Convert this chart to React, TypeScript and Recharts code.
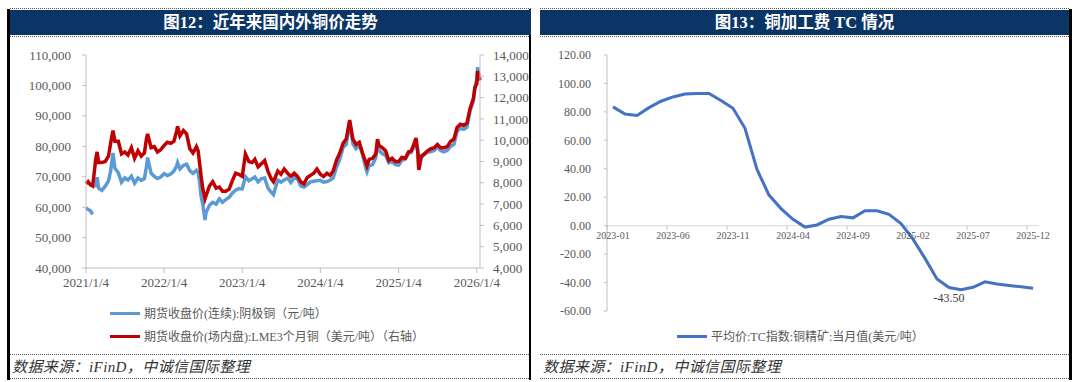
import React from "react";
import { LineChart, Line, XAxis, YAxis, ReferenceLine } from "recharts";

// ─── Data: 图12 近年来国内外铜价走势 ─────────────────────────────────────────────

// sampling dates (about twice a month, plus turning points)
const priceDates: string[] = [
  // 2021
  "2021-01-04", "2021-01-14", "2021-01-25", "2021-02-04", "2021-02-10", "2021-02-19", "2021-02-25",
  "2021-03-04", "2021-03-19", "2021-04-04", "2021-04-19", "2021-04-29", "2021-05-10", "2021-05-19",
  "2021-06-04", "2021-06-19", "2021-07-04", "2021-07-19", "2021-08-04", "2021-08-19", "2021-09-04",
  "2021-09-19", "2021-10-04", "2021-10-14", "2021-10-19", "2021-11-04", "2021-11-19", "2021-12-04",
  "2021-12-19",
  // 2022
  "2022-01-04", "2022-01-19", "2022-02-04", "2022-02-19", "2022-03-04", "2022-03-08", "2022-03-19",
  "2022-04-04", "2022-04-19", "2022-05-04", "2022-05-19", "2022-06-04", "2022-06-12", "2022-06-19",
  "2022-06-26", "2022-07-04", "2022-07-14", "2022-07-19", "2022-08-04", "2022-08-19", "2022-09-04",
  "2022-09-19", "2022-10-04", "2022-10-19", "2022-11-04", "2022-11-19", "2022-12-04", "2022-12-19",
  // 2023
  "2023-01-04", "2023-01-19", "2023-02-04", "2023-02-19", "2023-03-04", "2023-03-19", "2023-04-04",
  "2023-04-19", "2023-05-04", "2023-05-19", "2023-05-30", "2023-06-19", "2023-07-04", "2023-07-19",
  "2023-08-04", "2023-08-19", "2023-09-04", "2023-09-19", "2023-10-04", "2023-10-19", "2023-11-04",
  "2023-11-19", "2023-12-04", "2023-12-19",
  // 2024
  "2024-01-04", "2024-01-19", "2024-02-04", "2024-02-19", "2024-03-04", "2024-03-19", "2024-04-04",
  "2024-04-19", "2024-05-04", "2024-05-20", "2024-06-04", "2024-06-19", "2024-07-04", "2024-07-19",
  "2024-08-04", "2024-08-09", "2024-08-19", "2024-09-04", "2024-09-19", "2024-09-27", "2024-10-04",
  "2024-10-19", "2024-11-04", "2024-11-19", "2024-12-04", "2024-12-19",
  // 2025
  "2025-01-04", "2025-01-19", "2025-02-04", "2025-02-19", "2025-03-04", "2025-03-19", "2025-03-26",
  "2025-04-04", "2025-04-08", "2025-04-19", "2025-05-04", "2025-05-19", "2025-06-04", "2025-06-19",
  "2025-07-04", "2025-07-19", "2025-08-04", "2025-08-19", "2025-09-04", "2025-09-19", "2025-10-04",
  "2025-10-19", "2025-11-04", "2025-11-19", "2025-12-04", "2025-12-19", "2025-12-26",
  // 2026
  "2026-01-04", "2026-01-08", "2026-01-14", "2026-01-19",
];

// 期货收盘价(连续):阴极铜（元/吨）— null = no trading (Spring Festival)
const shfeCopper: (number | null)[] = [
  59800, 59200, 58800, 57600, null, 66500, 69800,
  66200, 65500, 66900, 68600, 71800, 77800, 72800,
  71300, 68200, 69600, 68900, 70200, 67900, 69600,
  68800, 69400, 73500, 76300, 71200, 70100, 69400,
  69900,
  71000, 70400, 70900, 71900, 73600, 74600, 72600,
  73700, 74100, 72000, 71100, 72100, 71400, 68200,
  63500, 60800, 55800, 58200, 60600, 61600, 61000,
  62700, 61600, 62500, 63300, 64600, 65600, 66100,
  66000, 70000, 68700, 69300, 69900, 68300, 69400,
  69600, 66300, 64900, 64100, 68900, 68200, 68900,
  69500, 68100, 69700, 69300, 67000, 66600, 67400,
  68300, 68500, 68700,
  68800, 68200, 68400, 68900, 69600, 73000, 75800,
  79600, 80600, 88000, 80800, 79200, 80400, 77300,
  72600, 71600, 73600, 74000, 76200, 81000, 78600,
  77600, 77000, 74600, 75000, 74000,
  73800, 75400, 75900, 77600, 78000, 80400, 81200,
  78600, 72500, 76000, 77600, 78000, 78300, 78600,
  79800, 78600, 78200, 78700, 80000, 80600, 84800,
  86000, 85600, 86300, 91800, 94800, 99500,
  102000, 106000, 103500, 102000,
];

// 期货收盘价(场内盘):LME3个月铜（美元/吨）
const lmeCopper: number[] = [
  7950, 8050, 7900, 7850, 8350, 9150, 9450,
  8950, 8950, 9000, 9250, 9850, 10450, 9950,
  9950, 9350, 9450, 9300, 9650, 9150, 9500,
  9250, 9400, 10100, 10300, 9650, 9700, 9450,
  9550,
  9750, 9900, 9850, 9950, 10450, 10650, 10200,
  10450, 10300, 9600, 9400, 9700, 9500, 8900,
  8300, 7700, 7250, 7400, 7850, 8050, 7750,
  7800, 7600, 7600, 7700, 8100, 8450, 8400,
  8300, 9350, 9000, 8950, 9100, 8750, 8900,
  9050, 8550, 8200, 8050, 8550, 8400, 8650,
  8450, 8300, 8450, 8300, 8050, 7950, 8250,
  8350, 8450, 8650,
  8400, 8300, 8450, 8350, 8550, 9050, 9400,
  9850, 10050, 10950, 10050, 9800, 9900, 9400,
  8950, 8800, 9100, 9150, 9350, 10050, 9750,
  9650, 9500, 9050, 9150, 9000,
  9000, 9200, 9150, 9450, 9500, 9900, 10100,
  9350, 8600, 9250, 9350, 9500, 9600, 9650,
  9800, 9650, 9650, 9700, 9950, 10050, 10600,
  10750, 10700, 10800, 11500, 11950, 12450,
  12650, 13250, 12950, 12800,
];

const priceTickDates = ["2021-01-04", "2022-01-04", "2023-01-04", "2024-01-04", "2025-01-04", "2026-01-04"];
const leftTicks = [40000, 50000, 60000, 70000, 80000, 90000, 100000, 110000];
const rightTicks = [4000, 5000, 6000, 7000, 8000, 9000, 10000, 11000, 12000, 13000, 14000];

// ─── Data: 图13 铜加工费 TC 情况 ────────────────────────────────────────────────

const tcMonths: string[] = [
  "2023-01", "2023-02", "2023-03", "2023-04", "2023-05", "2023-06", "2023-07", "2023-08", "2023-09",
  "2023-10", "2023-11", "2023-12", "2024-01", "2024-02", "2024-03", "2024-04", "2024-05", "2024-06",
  "2024-07", "2024-08", "2024-09", "2024-10", "2024-11", "2024-12", "2025-01", "2025-02", "2025-03",
  "2025-04", "2025-05", "2025-06", "2025-07", "2025-08", "2025-09", "2025-10", "2025-11", "2025-12",
];

// 平均价:TC指数:铜精矿:当月值(美元/吨)
const tcValues: number[] = [
  83.5, 78.5, 77.5, 83, 87.5, 90.5, 92.5, 93, 93,
  88, 82.5, 68.5, 39.5, 21.5, 12, 4.5, -1, 0.5,
  4.5, 6.5, 5.5, 10.5, 10.5, 8, 1.5, -9.5, -23,
  -37.5, -43.5, -45, -43.3, -39.5, -41, -42, -43, -44,
];

const tcLabelMonth = "2025-05";
const tcTicks = [-60, -40, -20, 0, 20, 40, 60, 80, 100, 120];

// ─── Styles ───────────────────────────────────────────────────────────────────

const SERIF = "'Liberation Serif', 'Noto Sans CJK SC', serif";
const LABEL = "#595959";
const AXIS = "#BFBFBF";
const NAVY = "#0B3565";

// tc plot geometry (chart coordinates) used to place the category labels on the zero line
const TC_TOP = 55;
const TC_HEIGHT = 256;
const TC_ZERO_Y = TC_TOP + (120 / 180) * TC_HEIGHT;

const toTime = (d: string) => Date.parse(d + "T00:00:00Z");

const priceRows = priceDates.map((d, i) => ({
  t: toTime(d),
  shfe: shfeCopper[i],
  lme: lmeCopper[i],
}));

const tcRows = tcMonths.map((m, i) => ({ month: m, tc: tcValues[i] }));

const fmtDate = (v: number) => {
  const d = new Date(v);
  return `${d.getUTCFullYear()}/${d.getUTCMonth() + 1}/${d.getUTCDate()}`;
};

// ─── Pieces ───────────────────────────────────────────────────────────────────

function TcTick(props: any) {
  const { x, payload } = props;
  return (
    <g>
      <line x1={x - 6} x2={x - 6} y1={TC_ZERO_Y} y2={TC_ZERO_Y + 4} stroke={AXIS} />
      <text
        x={x}
        y={TC_ZERO_Y + 13}
        textAnchor="middle"
        fill={LABEL}
        fontSize={10}
        fontFamily={SERIF}
      >
        {payload.value}
      </text>
    </g>
  );
}

const tcLabelIndex = tcMonths.indexOf(tcLabelMonth);

function TcLabel(props: any) {
  const { x, y, index, value } = props;
  if (index !== tcLabelIndex) return null;
  return (
    <text x={x} y={y + 14} textAnchor="middle" fill="#404040" fontSize={12} fontFamily={SERIF}>
      {Number(value).toFixed(2)}
    </text>
  );
}

function Dotted({ left, top, width }: { left: number; top: number; width: number }) {
  return (
    <div
      style={{
        position: "absolute",
        left,
        top,
        width,
        height: 0,
        borderTop: "1px dotted #555",
      }}
    />
  );
}

function TitleBar({ left, width, text }: { left: number; width: number; text: string }) {
  return (
    <div
      style={{
        position: "absolute",
        left,
        top: 10,
        width,
        height: 25,
        background: NAVY,
        color: "#fff",
        fontFamily: SERIF,
        fontWeight: 700,
        fontSize: 16.5,
        lineHeight: "25px",
        textAlign: "center",
      }}
    >
      {text}
    </div>
  );
}

function LegendRow({
  left,
  top,
  color,
  text,
}: {
  left: number;
  top: number;
  color: string;
  text: string;
}) {
  return (
    <div style={{ position: "absolute", left, top: top - 9, height: 18, display: "flex", alignItems: "center" }}>
      <div style={{ width: 30, height: 3, background: color, marginRight: 4 }} />
      <span style={{ fontFamily: SERIF, fontSize: 12, color: LABEL, whiteSpace: "nowrap" }}>{text}</span>
    </div>
  );
}

function Source({ left }: { left: number }) {
  return (
    <div
      style={{
        position: "absolute",
        left,
        top: 357,
        height: 20,
        lineHeight: "20px",
        fontFamily: SERIF,
        fontStyle: "italic",
        fontSize: 15,
        letterSpacing: 0.4,
        color: "#333",
        whiteSpace: "nowrap",
      }}
    >
      数据来源：iFinD，中诚信国际整理
    </div>
  );
}

// ─── App ──────────────────────────────────────────────────────────────────────

export default function App() {
  return (
    <div
      style={{
        position: "absolute",
        left: 0,
        top: 0,
        width: 1080,
        height: 382,
        background: "#fff",
        overflow: "hidden",
      }}
    >
      {/* frames */}
      <div style={{ position: "absolute", left: 7, top: 9, width: 3, height: 371, background: "#000" }} />
      <div style={{ position: "absolute", left: 529, top: 9, width: 2, height: 371, background: "#000" }} />
      <div style={{ position: "absolute", left: 1069, top: 9, width: 3, height: 371, background: "#000" }} />
      <Dotted left={10} top={8} width={521} />
      <Dotted left={10} top={36} width={519} />
      <Dotted left={10} top={354} width={519} />
      <Dotted left={10} top={378} width={519} />
      <Dotted left={540} top={8} width={529} />
      <Dotted left={540} top={36} width={529} />
      <Dotted left={540} top={354} width={529} />
      <Dotted left={540} top={378} width={529} />

      <TitleBar left={10} width={521} text="图12：近年来国内外铜价走势" />
      <TitleBar left={540} width={529} text="图13：铜加工费 TC 情况" />

      {/* 图12 */}
      <div style={{ position: "absolute", left: 0, top: 0 }}>
        <LineChart width={540} height={300} data={priceRows} margin={{ top: 55, right: 0, bottom: 2, left: 0 }}>
          <XAxis
            dataKey="t"
            type="number"
            domain={[toTime("2021-01-04"), toTime("2026-01-19")]}
            ticks={priceTickDates.map(toTime)}
            tickFormatter={fmtDate}
            height={30}
            tickSize={5}
            tickMargin={5}
            stroke={AXIS}
            tick={{ fill: LABEL, fontSize: 13, fontFamily: SERIF }}
          />
          <YAxis
            yAxisId="left"
            orientation="left"
            width={86}
            domain={[40000, 110000]}
            ticks={leftTicks}
            tickFormatter={(v: number) => v.toLocaleString("en-US")}
            tickSize={4}
            tickMargin={11}
            stroke={AXIS}
            tick={{ fill: LABEL, fontSize: 13, fontFamily: SERIF }}
          />
          <YAxis
            yAxisId="right"
            orientation="right"
            width={60}
            domain={[4000, 14000]}
            ticks={rightTicks}
            tickFormatter={(v: number) => v.toLocaleString("en-US")}
            tickSize={4}
            tickMargin={9}
            stroke={AXIS}
            tick={{ fill: LABEL, fontSize: 13, fontFamily: SERIF }}
          />
          <Line
            yAxisId="left"
            dataKey="shfe"
            stroke="#5B9BD5"
            strokeWidth={3.5}
            dot={false}
            type="linear"
            isAnimationActive={false}
          />
          <Line
            yAxisId="right"
            dataKey="lme"
            stroke="#C00000"
            strokeWidth={3.5}
            dot={false}
            type="linear"
            isAnimationActive={false}
          />
        </LineChart>
      </div>
      <LegendRow left={110} top={313} color="#5B9BD5" text="期货收盘价(连续):阴极铜（元/吨）" />
      <LegendRow left={110} top={336} color="#C00000" text="期货收盘价(场内盘):LME3个月铜（美元/吨）（右轴）" />

      {/* 图13 */}
      <div style={{ position: "absolute", left: 540, top: 0 }}>
        <LineChart width={540} height={320} data={tcRows} margin={{ top: TC_TOP, right: 41, bottom: 0, left: 0 }}>
          <XAxis
            dataKey="month"
            height={9}
            interval={4}
            padding={{ left: 6, right: 6 }}
            axisLine={false}
            tickLine={false}
            tick={<TcTick />}
          />
          <YAxis
            width={67}
            domain={[-60, 120]}
            ticks={tcTicks}
            tickFormatter={(v: number) => v.toFixed(2)}
            tickSize={3}
            tickMargin={13}
            stroke={AXIS}
            tick={{ fill: LABEL, fontSize: 12, fontFamily: SERIF }}
          />
          <ReferenceLine y={0} stroke="#D9D9D9" strokeWidth={1} />
          <Line
            dataKey="tc"
            stroke="#4472C4"
            strokeWidth={3}
            dot={false}
            type="linear"
            label={<TcLabel />}
            isAnimationActive={false}
          />
        </LineChart>
      </div>
      <LegendRow left={677} top={336} color="#4472C4" text="平均价:TC指数:铜精矿:当月值(美元/吨）" />

      <Source left={12} />
      <Source left={543} />
    </div>
  );
}
